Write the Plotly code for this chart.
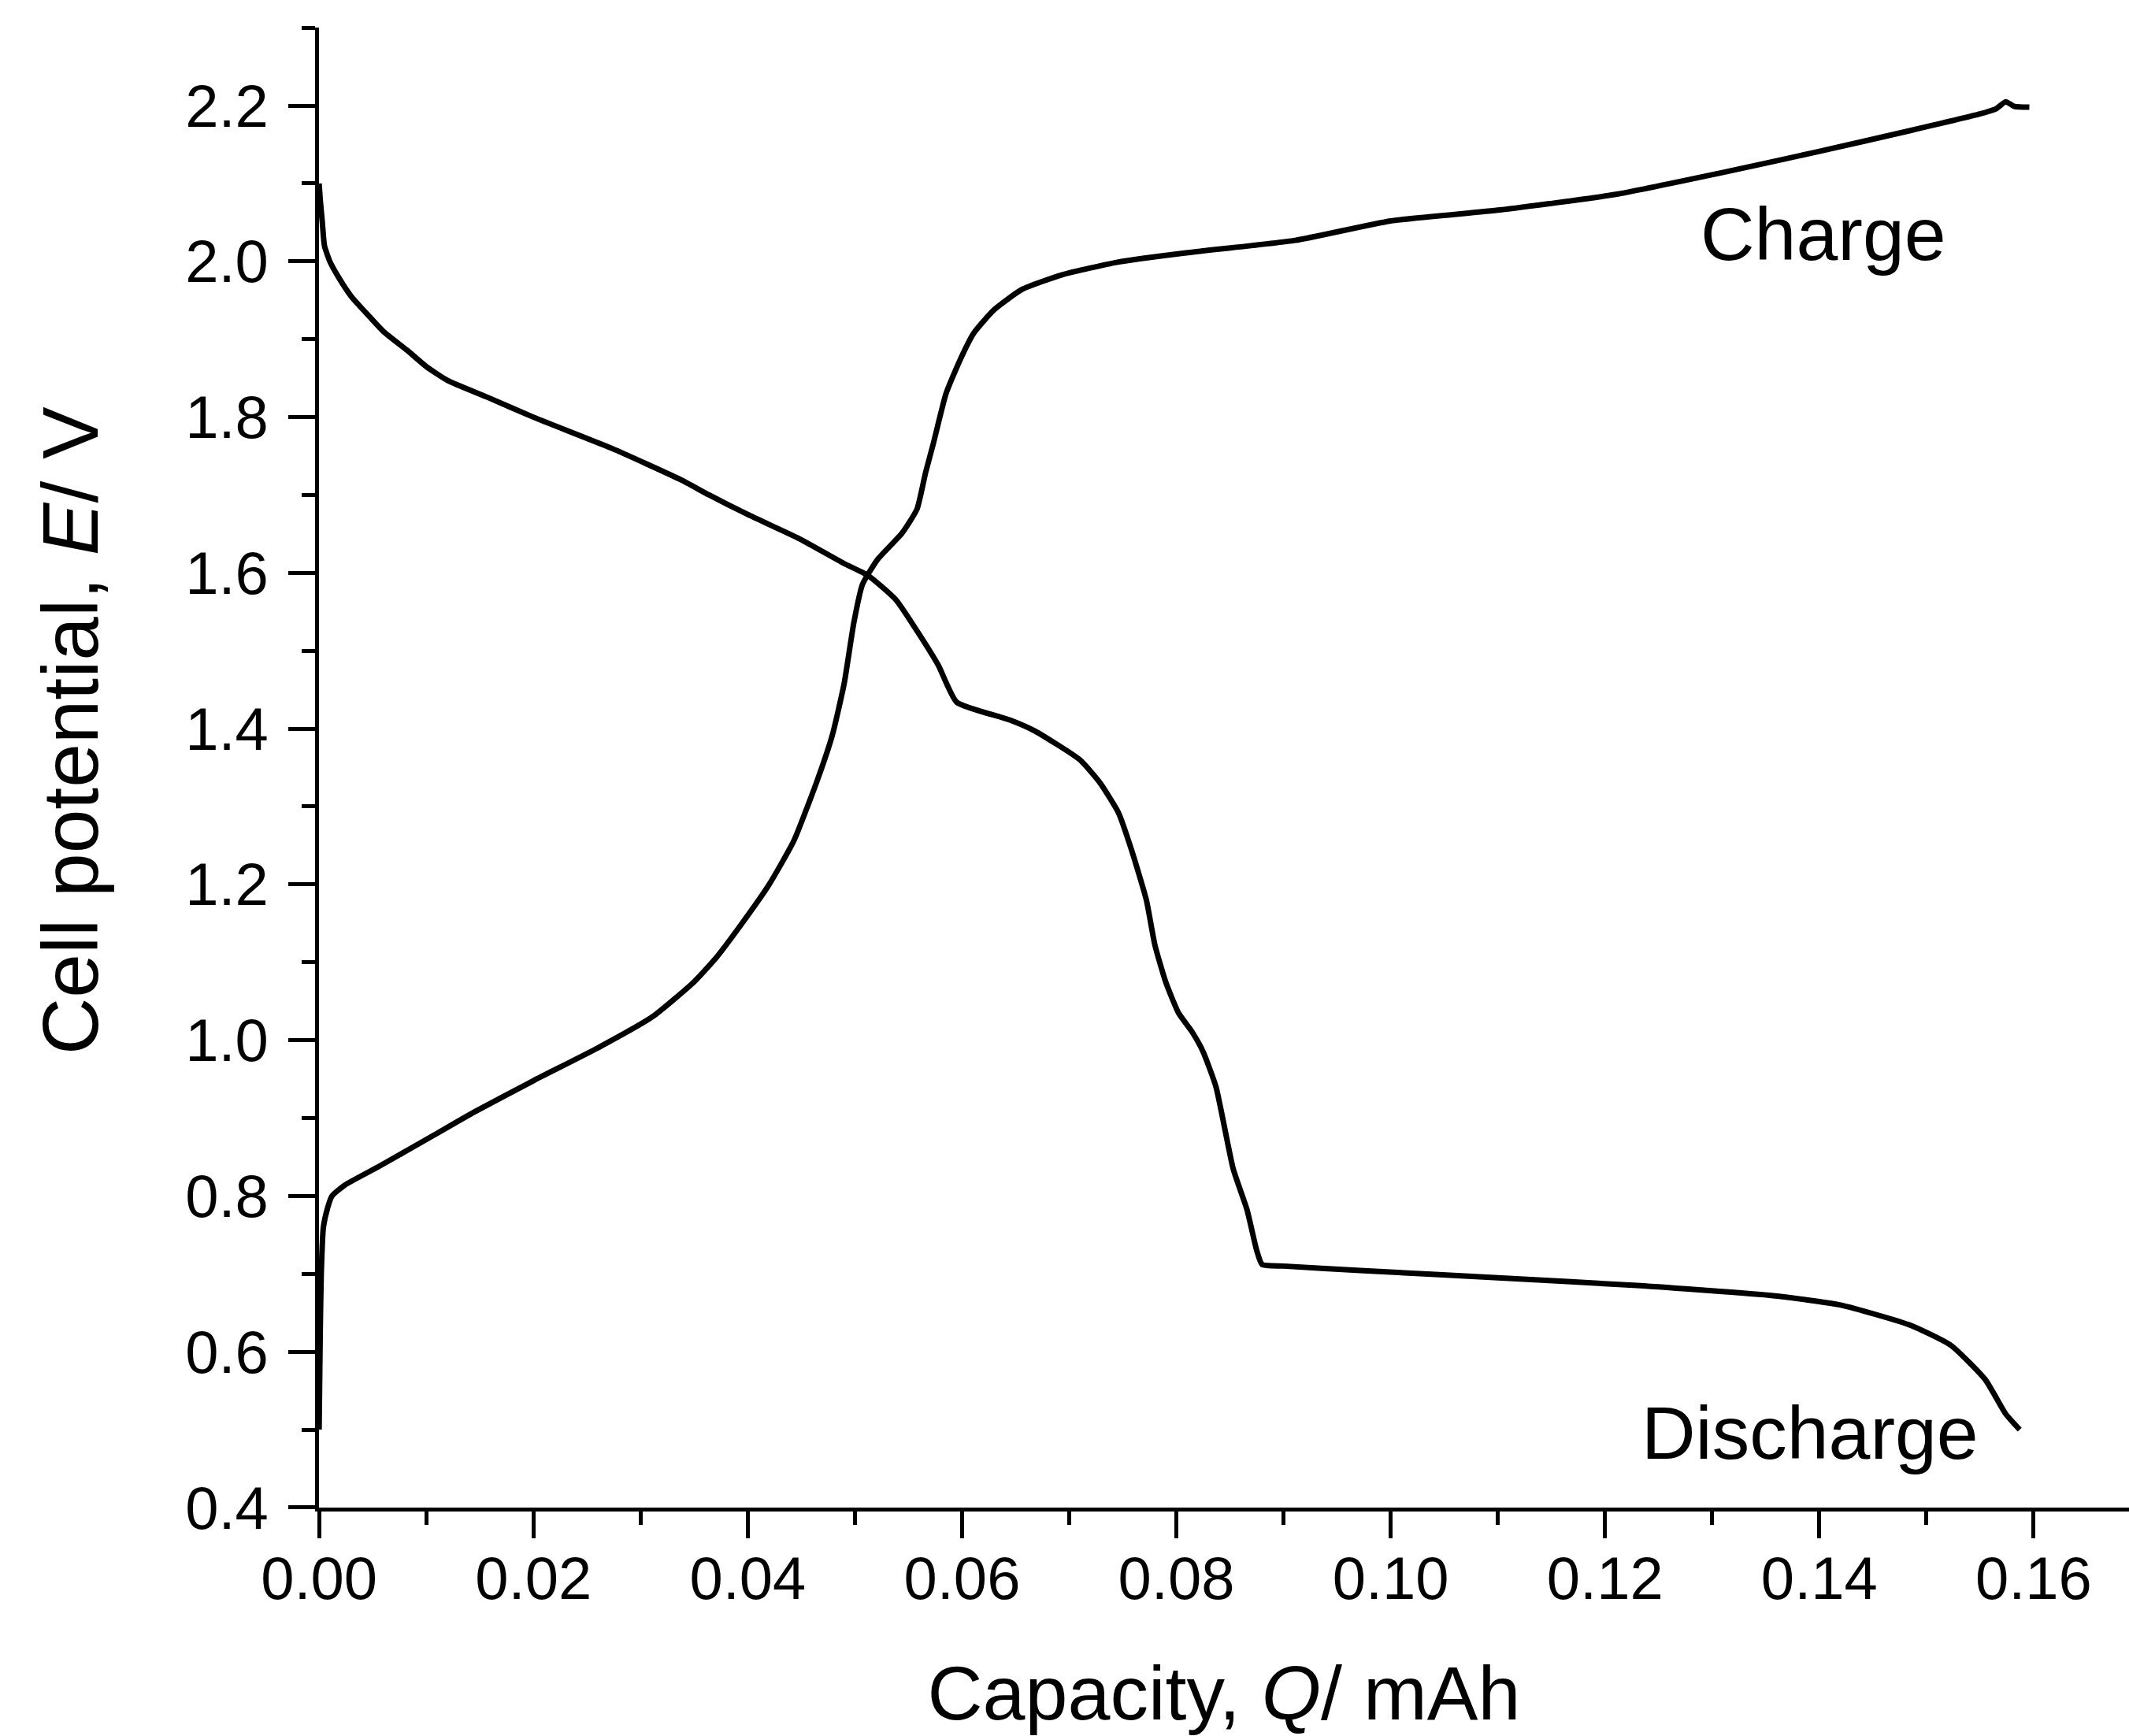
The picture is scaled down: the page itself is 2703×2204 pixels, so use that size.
import plotly.graph_objects as go

# Charge curve (capacity in mAh, potential in V)
charge_q = [0.0, 0.0001, 0.0002, 0.0004, 0.0008, 0.0012, 0.0024, 0.0056, 0.0107, 0.0145,
            0.020, 0.026, 0.0311, 0.035, 0.037, 0.0392, 0.042, 0.0443, 0.0465, 0.0479,
            0.049, 0.0499, 0.0507, 0.0521, 0.0544, 0.0558, 0.0566, 0.0573, 0.0585, 0.0598,
            0.0611, 0.063, 0.0656, 0.0694, 0.0745, 0.0809, 0.0911, 0.100, 0.1102, 0.121,
            0.1306, 0.1396, 0.1485, 0.1549, 0.1565, 0.1574, 0.1582, 0.1596]
charge_e = [0.50, 0.62, 0.70, 0.76, 0.785, 0.80, 0.814, 0.838, 0.878, 0.908,
            0.948, 0.99, 1.03, 1.075, 1.105, 1.145, 1.20, 1.256, 1.334, 1.392,
            1.458, 1.536, 1.585, 1.617, 1.651, 1.682, 1.729, 1.765, 1.83, 1.873,
            1.908, 1.938, 1.964, 1.983, 1.999, 2.011, 2.027, 2.052, 2.066, 2.086,
            2.113, 2.14, 2.168, 2.189, 2.196, 2.205, 2.199, 2.198]

# Discharge curve
discharge_q = [0.0, 0.0001, 0.0003, 0.0005, 0.0010, 0.0018, 0.0030, 0.0043, 0.0060, 0.0082,
               0.010, 0.012, 0.0158, 0.020, 0.0273, 0.0337, 0.0364, 0.040, 0.0448, 0.049,
               0.0512, 0.0538, 0.0561, 0.0578, 0.0595, 0.0645, 0.0668, 0.071, 0.0729, 0.0746,
               0.0758, 0.0772, 0.078, 0.079, 0.0802, 0.0815, 0.0825, 0.0837, 0.0853, 0.0866,
               0.0875, 0.088, 0.090, 0.0975, 0.110, 0.123, 0.1357, 0.142, 0.1485, 0.1523,
               0.1555, 0.1574, 0.1587]
discharge_e = [2.10, 2.08, 2.05, 2.02, 2.00, 1.98, 1.955, 1.935, 1.91, 1.886,
               1.865, 1.847, 1.825, 1.80, 1.76, 1.72, 1.70, 1.675, 1.644, 1.612,
               1.597, 1.566, 1.519, 1.481, 1.434, 1.411, 1.397, 1.36, 1.33, 1.292,
               1.245, 1.18, 1.122, 1.075, 1.035, 1.01, 0.985, 0.94, 0.835, 0.782,
               0.73, 0.712, 0.710, 0.704, 0.695, 0.685, 0.672, 0.66, 0.634, 0.608,
               0.564, 0.52, 0.50]

FONT = "Liberation Sans, Arial, sans-serif"

fig = go.Figure()
fig.add_trace(go.Scatter(x=charge_q, y=charge_e, mode="lines", name="Charge",
                         line=dict(color="black", width=7, shape="spline", smoothing=0.5)))
fig.add_trace(go.Scatter(x=discharge_q, y=discharge_e, mode="lines", name="Discharge",
                         line=dict(color="black", width=7, shape="spline", smoothing=0.5)))

fig.add_annotation(x=0.1404, y=2.035, text="Charge", showarrow=False,
                   font=dict(family=FONT, size=95, color="black"),
                   xanchor="center", yanchor="middle")
fig.add_annotation(x=0.1391, y=0.496, text="Discharge", showarrow=False,
                   font=dict(family=FONT, size=95, color="black"),
                   xanchor="center", yanchor="middle")
# y-axis title placed as rotated annotation to match the reference's vertical position
fig.add_annotation(xref="paper", yref="paper", x=-0.1375, y=0.5248,
                   text="Cell potential, <i>E</i>/ V", textangle=-90, showarrow=False,
                   font=dict(family=FONT, size=100, color="black"),
                   xanchor="center", yanchor="middle")

axis_common = dict(showgrid=False, zeroline=False, showline=True, linecolor="black",
                   linewidth=5, ticks="outside", ticklen=34, tickwidth=5, tickcolor="black",
                   tickfont=dict(family=FONT, size=76, color="black"), mirror=False)

fig.update_xaxes(range=[-0.00001, 0.1689], tick0=0, dtick=0.02, tickformat=".2f",
                 minor=dict(dtick=0.01, ticks="outside", ticklen=17, tickwidth=5,
                            tickcolor="black"),
                 title=dict(text="Capacity, <i>Q</i>/ mAh",
                            font=dict(family=FONT, size=97, color="black"), standoff=78),
                 ticklabelstandoff=-14,
                 **axis_common)
fig.update_yaxes(range=[0.3999, 2.3002], tick0=0.4, dtick=0.2, tickformat=".1f",
                 minor=dict(dtick=0.1, ticks="outside", ticklen=17, tickwidth=5,
                            tickcolor="black"),
                 ticklabelstandoff=10,
                 **axis_common)

fig.update_layout(width=2703, height=2204, plot_bgcolor="white", paper_bgcolor="white",
                  showlegend=False, margin=dict(l=405, r=0, t=35, b=290, pad=0))

fig.write_html("out.html", config={"displayModeBar": False},
               post_script="document.body.style.margin='0';document.body.style.overflow='hidden';")
